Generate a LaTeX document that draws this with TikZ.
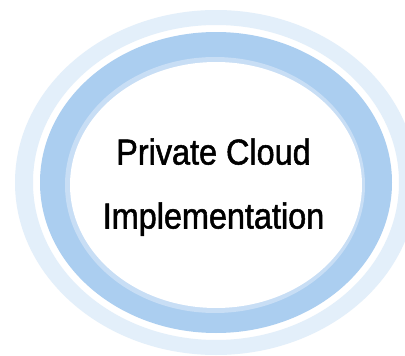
\documentclass[tikz,border=0pt]{standalone}
\usepackage{fontspec}
\setmainfont{Liberation Sans}[FakeStretch=0.90, FakeBold=1.4]
\definecolor{ringlight}{RGB}{227,239,250}
\definecolor{ringmid}{RGB}{171,206,240}
\definecolor{ringband}{RGB}{200,222,245}
\tikzset{
  titletext/.style={anchor=base, inner sep=0pt, text=black, font=\fontsize{36}{42}\selectfont}
}
\begin{document}
\begin{tikzpicture}[x=1pt,y=-1pt]
\fill[white] (0,0) rectangle (405,356);
\useasboundingbox (0,0) rectangle (405,356);
\begin{scope}
\clip (0,0) rectangle (405,356);
\fill[ringlight, even odd rule] (216,182.5) ellipse [x radius=201, y radius=172.5]
                                (216,182.5) ellipse [x radius=183, y radius=157.5];
\fill[ringmid] (216,182.5) ellipse [x radius=176, y radius=150.5];
\fill[ringband] (215,185) ellipse [x radius=150, y radius=128];
\fill[white] (216,185) ellipse [x radius=146, y radius=123];
\end{scope}
\node[titletext] (line1) at (213.5,164.5) {Private Cloud};
\node[titletext] (line2) at (213.5,228.5) {Implementation};
\end{tikzpicture}
\end{document}
